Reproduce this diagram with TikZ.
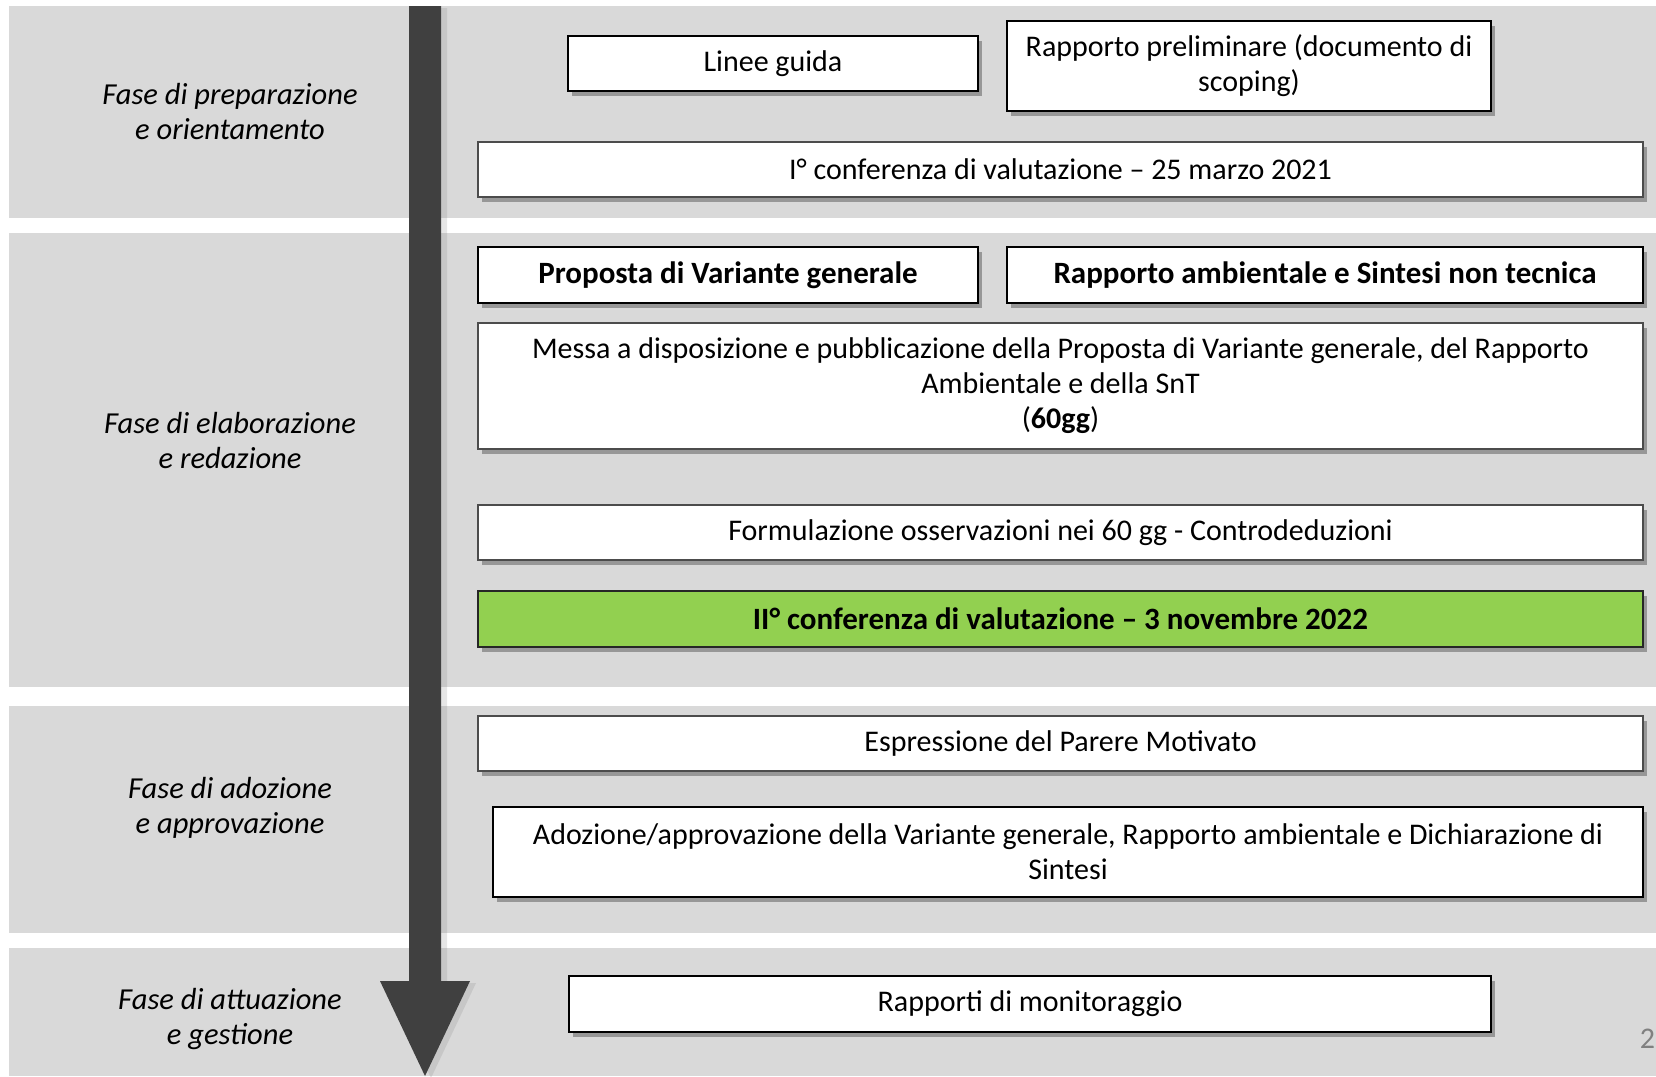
\documentclass[tikz,border=0pt]{standalone}
\usepackage{fontspec}
\setmainfont{Carlito}
\usetikzlibrary{shadows}
\definecolor{fascia}{HTML}{D9D9D9}
\definecolor{freccia}{HTML}{404040}
\definecolor{verde}{HTML}{92D050}
\tikzset{
  ombra/.style={drop shadow={shadow xshift=4pt,shadow yshift=-5pt,opacity=.3,fill=black}},
  casella/.style={draw=black,line width=2pt,fill=white,ombra,inner sep=0pt,
                  align=center,font=\fontsize{30}{35}\selectfont},
  sottile/.style={casella,draw=black!70,line width=1.3pt},
  grassetto/.style={font=\fontsize{31}{35}\selectfont\bfseries},
  fase/.style={align=center,font=\fontsize{30.5}{35}\selectfont\itshape}
}

\begin{document}
\begin{tikzpicture}[x=1pt,y=-1pt]
  \useasboundingbox (0,0) rectangle (1656,1076);
  % fasce di sfondo
  \fill[fascia] (9,6) rectangle (1656,218);
  \fill[fascia] (9,233) rectangle (1656,687);
  \fill[fascia] (9,706) rectangle (1656,933);
  \fill[fascia] (9,948) rectangle (1656,1076);
  % freccia del tempo
  \fill[freccia,drop shadow={shadow xshift=6pt,shadow yshift=-2pt,opacity=.2}]
    (409,6) -- (441,6) -- (441,981) -- (470,981) -- (425,1076)
    -- (380,981) -- (409,981) -- cycle;

  \node[fase] (prep) at (230,111.5) {Fase di preparazione\\e orientamento};
  \node[fase] (elab) at (230,441) {Fase di elaborazione\\e redazione};
  \node[fase] (adoz) at (230,808) {Fase di adozione\\e approvazione};
  \node[fase] (attu) at (230,1019.5) {Fase di attuazione\\e gestione};

  \node[casella,minimum width=410,minimum height=55] (linee) at (773,63.5) {Linee guida};
  \node[casella,minimum width=484,minimum height=90] (prelim) at (1249,66)
    {Rapporto preliminare (documento di\\scoping)};
  \node[sottile,minimum width=1165,minimum height=55] (conf1) at (1060.5,169.5)
    {I° conferenza di valutazione – 25 marzo 2021};

  \node[casella,grassetto,minimum width=500,minimum height=56]
    (proposta) at (728,275) {Proposta di Variante generale};
  \node[casella,grassetto,minimum width=636,minimum height=56]
    (rapamb) at (1325,275) {Rapporto ambientale e Sintesi non tecnica};
  \node[sottile,minimum width=1165,minimum height=126] (messa) at (1060.5,386)
    {Messa a disposizione e pubblicazione della Proposta di Variante generale, del Rapporto\\
     Ambientale e della SnT\\(\textbf{60gg})};
  \node[sottile,minimum width=1165,minimum height=55] (osserv) at (1060.5,532.5)
    {Formulazione osservazioni nei 60 gg - Controdeduzioni};
  \node[sottile,grassetto,draw=black!85,fill=verde,minimum width=1165,minimum height=56]
    (conf2) at (1060.5,619) {II° conferenza di valutazione – 3 novembre 2022};

  \node[sottile,minimum width=1165,minimum height=55] (parere) at (1060.5,743.5)
    {Espressione del Parere Motivato};
  \node[casella,line width=1.6pt,minimum width=1150,minimum height=90] (adozione) at (1068,852)
    {Adozione/approvazione della Variante generale, Rapporto ambientale e Dichiarazione di\\Sintesi};

  \node[casella,line width=1.6pt,minimum width=922,minimum height=56] (monit) at (1030,1004)
    {Rapporti di monitoraggio};

  \node[text=black!50,font=\fontsize{30}{36}\selectfont] (pagina) at (1647.5,1039) {2};
\end{tikzpicture}
\end{document}
